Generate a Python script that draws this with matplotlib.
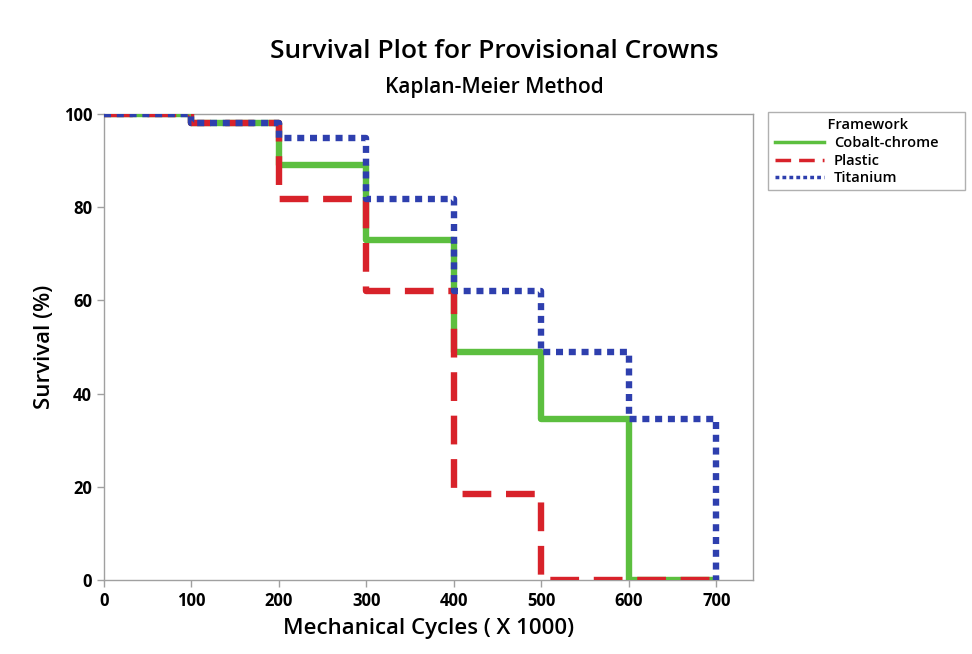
import matplotlib
matplotlib.use("Agg")
import matplotlib.pyplot as plt
from matplotlib.patches import Rectangle
import numpy as np

plt.rcParams['font.family'] = ['Open Sans', 'DejaVu Sans']

cycles = [0, 100, 200, 300, 400, 500, 600, 700]
cobalt = [100, 98, 89, 73, 49, 34.5, 0, 0]
plastic = [100, 98, 81.7, 62, 18.5, 0, 0, 0]
titanium = [100, 98, 94.8, 81.8, 62, 49, 34.5, 0]
xticks = [0, 100, 200, 300, 400, 500, 600, 700]
yticks = [0, 20, 40, 60, 80, 100]

W, H = 972, 654
fig = plt.figure(figsize=(9.72, 6.54), dpi=100)
ax = fig.add_axes([104/W, 1-580/H, (753-104)/W, (580-114)/H])

ax.step(cycles, cobalt, where='post', color='#5cbf3f', lw=4.6, label='Cobalt-chrome', zorder=3)
ax.step(cycles, plastic, where='post', color='#d8222a', lw=4.6, linestyle=(0, (4.5, 2.3)), label='Plastic', zorder=4)
ax.step(cycles, titanium, where='post', color='#2e3fae', lw=4.6, linestyle=(0, (1.1, 0.9)), label='Titanium', zorder=5)

ax.set_xlim(0, 742)
ax.set_ylim(0, 100)
ax.set_xticks(xticks)
ax.set_yticks(yticks)
for s in ax.spines.values():
    s.set_color('#a0a0a0')
    s.set_linewidth(1.0)
ax.tick_params(colors='#a0a0a0', length=5, width=1, labelcolor='black', labelsize=12)
for lab in ax.get_xticklabels() + ax.get_yticklabels():
    lab.set_fontweight('bold')

ax.set_xlabel('Mechanical Cycles ( X 1000)', fontsize=16, fontweight='semibold', labelpad=6)
ax.set_ylabel('Survival (%)', fontsize=16, fontweight='semibold', labelpad=6)

fig.text(494/W, 1 - 52/H, 'Survival Plot for Provisional Crowns', ha='center', va='center', fontsize=19, fontweight='semibold')
fig.text(494/W, 1 - 87/H, 'Kaplan-Meier Method', ha='center', va='center', fontsize=15, fontweight='semibold')

# legend frame
fig.patches.append(Rectangle((768/W, 1 - 190/H), (965-768)/W, (190-112)/H, transform=fig.transFigure,
                             facecolor='white', edgecolor='#b0b0b0', linewidth=1.0, zorder=0))
leg = fig.legend(loc='upper left', bbox_to_anchor=(771/W, 1 - 114/H), title='              Framework',
                 prop={'size': 10.5, 'weight': 'semibold'}, title_fontproperties={'size': 10.5, 'weight': 'semibold'},
                 frameon=False, alignment='left', borderaxespad=0,
                 handlelength=3.3, handletextpad=0.7, borderpad=0.3, labelspacing=0.25)
for line in leg.get_lines():
    line.set_linewidth(2.5)

fig.savefig('out.png', dpi=100)
